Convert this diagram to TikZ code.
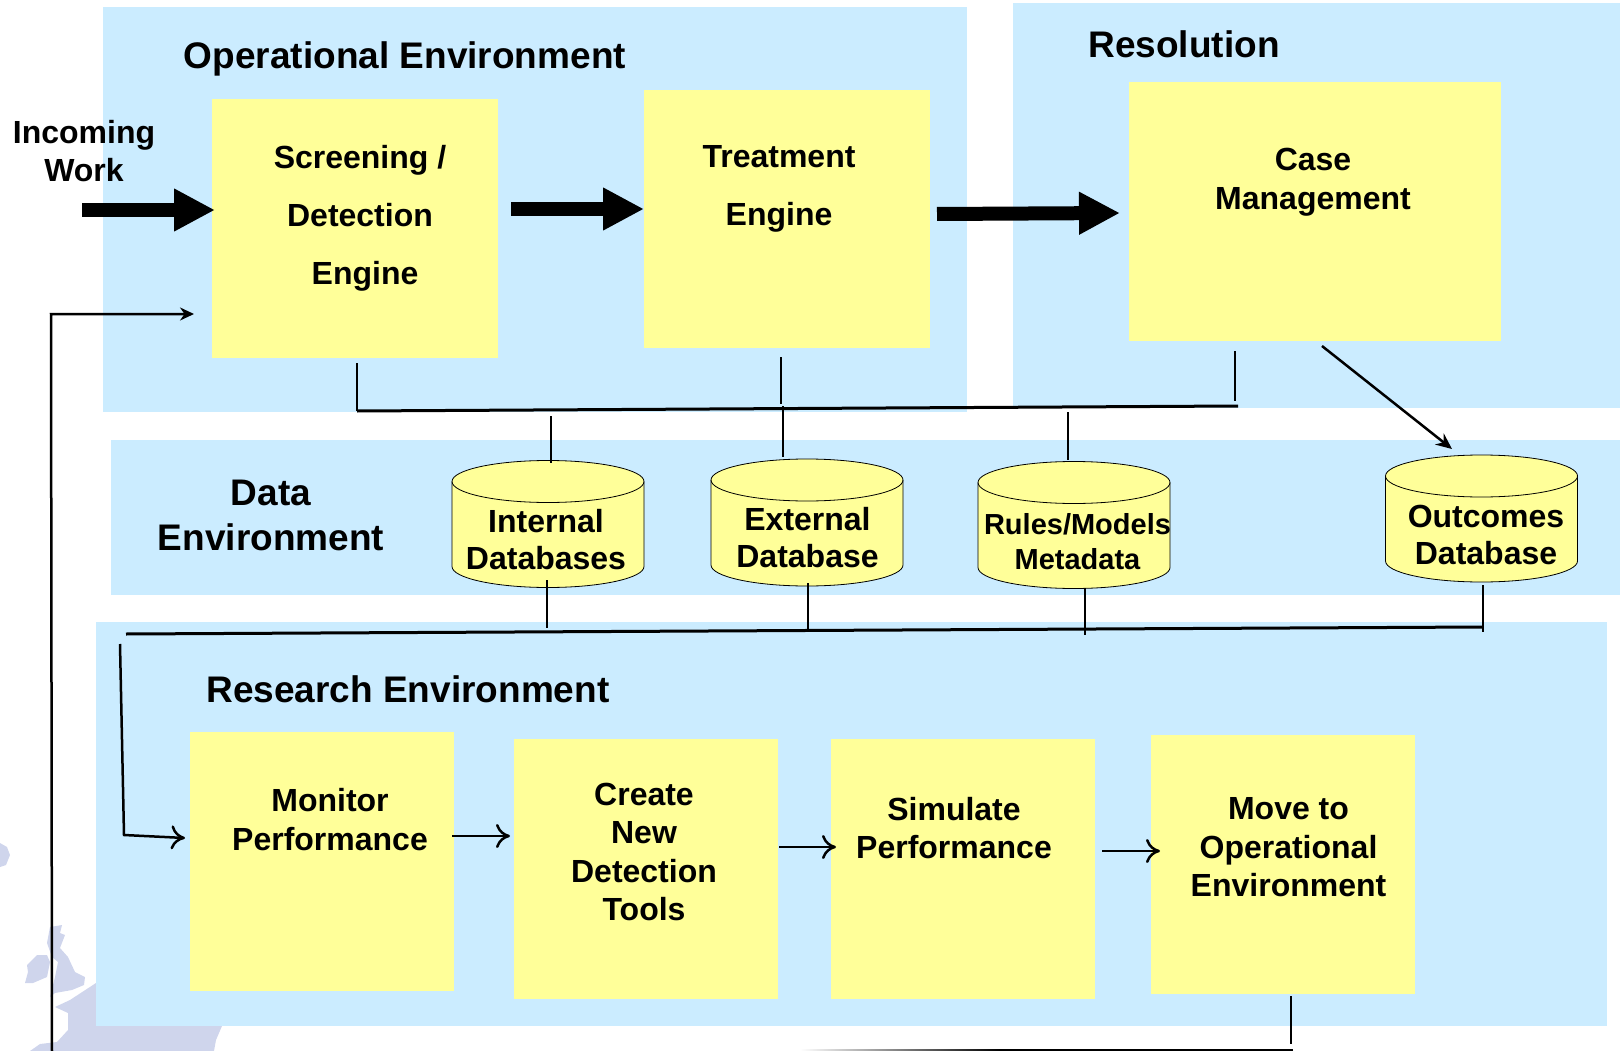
\documentclass[tikz,border=0pt]{standalone}
\usepackage{fontspec}
\setmainfont{Liberation Sans}
\usetikzlibrary{arrows.meta}
\definecolor{envcolor}{HTML}{CBECFF}
\definecolor{notecolor}{HTML}{FFFF99}
\definecolor{mapcolor}{HTML}{CFD5EC}
\tikzset{
 envbox/.style={fill=envcolor,draw=none,inner sep=0pt,outer sep=0pt},
 notebox/.style={fill=notecolor,draw=none},
 dbcyl/.pic={
  \draw [line width=0.8pt,fill=notecolor] (-96,-42.5) .. controls (-96,-54) and (-53,-63.5) .. (0,-63.5) .. controls (53,-63.5) and (96,-54) .. (96,-42.5) -- (96,42.5) .. controls (96,54) and (53,63.5) .. (0,63.5) .. controls (-53,63.5) and (-96,54) .. (-96,42.5) -- cycle;
  \draw [line width=0.8pt] (-96,-42.5) .. controls (-96,-31) and (-53,-21.5) .. (0,-21.5) .. controls (53,-21.5) and (96,-31) .. (96,-42.5);
 },
 titletext/.style={font=\fontsize{37}{45}\selectfont\bfseries,align=center,inner sep=0pt},
 boxtext/.style={font=\fontsize{32}{38.5}\selectfont\bfseries,align=center,inner sep=0pt},
 dbtext/.style={font=\fontsize{32}{37}\selectfont\bfseries,align=center,inner sep=0pt},
 wire/.style={line width=2.5pt,black},
 buswire/.style={line width=3pt,black},
 flow/.style={line width=2.5pt,-{To[length=14pt,width=24pt,line width=2.5pt]}},
 bigflow/.style={line width=14pt,-{Triangle[length=41pt,width=40pt]}}
}
\begin{document}
\begin{tikzpicture}[x=1pt,y=-1pt]
 \useasboundingbox (0,0) rectangle (1620,1051);
 % map behind the boxes
 \fill [mapcolor] (0,843) -- (7,847) -- (10,855) -- (6,865) -- (0,867) -- cycle;
 \fill [mapcolor] (50,927) -- (62,925) -- (60,933) -- (65,935) -- (60,948) -- (68,957) -- (75,972) -- (85,977) -- (84,985) -- (72,990) -- (55,993) -- (50,997) -- (55,977) -- (58,962) -- (52,957) -- (47,943) -- cycle;
 \fill [mapcolor] (27,965) -- (37,955) -- (47,955) -- (50,962) -- (47,977) -- (33,983) -- (25,983) -- (28,972) -- cycle;
 \fill [mapcolor] (55,1007) -- (70,1000) -- (96,983) -- (222,1000) -- (222,1026) -- (216,1040) -- (214,1051) -- (30,1051) -- (40,1044) -- (57,1042) -- (68,1030) -- (68,1013) -- cycle;
 % environments
 \node [envbox,minimum width=864pt,minimum height=405pt] (opEnv) at (535,209.5) {};
 \node [envbox,minimum width=607pt,minimum height=405pt] (resEnv) at (1316.5,205.5) {};
 \node [envbox,minimum width=1509pt,minimum height=155pt] (dataEnv) at (865.5,517.5) {};
 \node [envbox,minimum width=1511pt,minimum height=404pt] (resrchEnv) at (851.5,824) {};
 \node [titletext] (opTitle) at (405,59) {Operational Environment};
 \node [titletext] (resTitle) at (1184,44) {Resolution};
 \node [titletext] (dataTitle) at (271,515) {Data\\Environment};
 \node [titletext] (resrchTitle) at (408,689) {Research Environment};
 % yellow boxes
 \node [notebox,minimum width=286pt,minimum height=259pt] (screen) at (355,228.5) {};
 \node [notebox,minimum width=286pt,minimum height=258pt] (treat) at (787,219) {};
 \node [notebox,minimum width=372pt,minimum height=259pt] (case) at (1315,211.5) {};
 \node [notebox,minimum width=264pt,minimum height=259pt] (monitor) at (322,861.5) {};
 \node [notebox,minimum width=264pt,minimum height=260pt] (create) at (646,869) {};
 \node [notebox,minimum width=264pt,minimum height=260pt] (simul) at (963,869) {};
 \node [notebox,minimum width=264pt,minimum height=259pt] (move) at (1282.5,864.5) {};
 \node [boxtext] (screenA) at (360,160) {Screening /};
 \node [boxtext] (screenB) at (360,215) {Detection};
 \node [boxtext] (screenC) at (365,276) {Engine};
 \node [boxtext] (treatA) at (779,157) {Treatment};
 \node [boxtext] (treatB) at (779,217) {Engine};
 \node [boxtext] (caseText) at (1313,182) {Case\\Management};
 \node [boxtext] (monitorText) at (330,819.5) {Monitor\\Performance};
 \node [boxtext] (createText) at (644,852) {Create\\New\\Detection\\Tools};
 \node [boxtext] (simulText) at (954,828) {Simulate\\Performance};
 \node [boxtext] (moveText) at (1288.5,847.5) {Move to\\Operational\\Environment};
 \node [boxtext] (incoming) at (84,151) {Incoming\\Work};
 % databases
 \pic (intDb) at (548,524) {dbcyl};
 \pic (extDb) at (807,522.5) {dbcyl};
 \pic (rulesDb) at (1074,525) {dbcyl};
 \pic (outDb) at (1481.5,518.5) {dbcyl};
 \node [dbtext] (intText) at (546,540) {Internal\\Databases};
 \node [dbtext] (extText) at (807.5,538) {External\\Database};
 \node [dbtext,font=\fontsize{29}{35}\selectfont\bfseries] (rulesText) at (1077.5,541.5) {Rules/Models\\Metadata};
 \node [dbtext] (outText) at (1486,535) {Outcomes\\Database};
 % free ends
 \coordinate (inA) at (82,210);
 \coordinate (inB) at (215,210);
 \coordinate (busTopL) at (357,411);
 \coordinate (busTopR) at (1238,406);
 \coordinate (busTopA) at (357,363);
 \coordinate (busTopB) at (781,357);
 \coordinate (busTopBb) at (781,404);
 \coordinate (busTopC) at (1235,351);
 \coordinate (busTopCb) at (1235,401);
 \coordinate (busTopD) at (551,416);
 \coordinate (busTopDb) at (551,463);
 \coordinate (busTopE) at (783,406);
 \coordinate (busTopEb) at (783,457);
 \coordinate (busTopF) at (1068,412);
 \coordinate (busTopFb) at (1068,460);
 \coordinate (busLowL) at (126,634);
 \coordinate (busLowR) at (1483,627);
 \coordinate (intLowA) at (547,580);
 \coordinate (intLowB) at (547,628);
 \coordinate (extLowA) at (808,583);
 \coordinate (extLowB) at (808,630);
 \coordinate (rulesLowA) at (1085,588);
 \coordinate (rulesLowB) at (1085,635);
 \coordinate (outLowA) at (1483,585);
 \coordinate (outLowB) at (1483,632);
 \coordinate (resrchA) at (120,644);
 \coordinate (resrchB) at (124,835);
 \coordinate (resrchC) at (185,838);
 \coordinate (fbTop) at (194,314);
 \coordinate (fbCorner) at (51,314);
 \coordinate (fbLow) at (52,1051);
 \coordinate (moveA) at (1291,996);
 \coordinate (moveB) at (1291,1044);
 \coordinate (moveC) at (1293,1050);
 \coordinate (moveD) at (1000,1050);
 \coordinate (caseA) at (1322,346);
 \coordinate (caseB) at (1452,449);
 \coordinate (flowA) at (452,836);
 \coordinate (flowB) at (510,836);
 \coordinate (flowC) at (779,847);
 \coordinate (flowD) at (836,847);
 \coordinate (flowE) at (1102,851);
 \coordinate (flowF) at (1160,851);
 % thick arrows
 \draw [bigflow] (inA) -- (inB);
 \draw [bigflow] (511,209) coordinate (bigA) -- (644,209) coordinate (bigB);
 \draw [bigflow] (937,214) coordinate (bigC) -- (1120,213) coordinate (bigD);
 % upper bus
 \draw [buswire] (busTopL) -- (busTopR);
 \draw [wire] (busTopA) -- (busTopL);
 \draw [wire] (busTopB) -- (busTopBb);
 \draw [wire] (busTopC) -- (busTopCb);
 \draw [wire] (busTopD) -- (busTopDb);
 \draw [wire] (busTopE) -- (busTopEb);
 \draw [wire] (busTopF) -- (busTopFb);
 % lower bus
 \draw [buswire] (busLowL) -- (busLowR);
 \draw [wire] (intLowA) -- (intLowB);
 \draw [wire] (extLowA) -- (extLowB);
 \draw [wire] (rulesLowA) -- (rulesLowB);
 \draw [wire] (outLowA) -- (outLowB);
 \draw [flow] (resrchA) -- (resrchB) -- (resrchC);
 \draw [flow] (flowA) -- (flowB);
 \draw [flow] (flowC) -- (flowD);
 \draw [flow] (flowE) -- (flowF);
 \draw [line width=2.5pt,-{Stealth[length=16pt,width=14pt]}] (caseA) -- (caseB);
 \draw [line width=2.5pt,-{Stealth[length=14pt,width=13pt]}] (fbLow) -- (fbCorner) -- (fbTop);
 \draw [wire] (moveA) -- (moveB);
 \draw [wire] (moveC) -- (moveD);
 \shade [left color=white,right color=black] (800,1049) rectangle (1000,1051);
\end{tikzpicture}
\end{document}
